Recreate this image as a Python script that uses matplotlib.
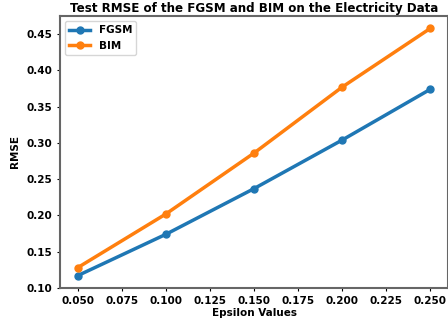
import matplotlib
matplotlib.use("Agg")
import matplotlib.pyplot as plt

epsilon = [0.05, 0.10, 0.15, 0.20, 0.25]
fgsm = [0.117, 0.174, 0.237, 0.304, 0.374]
bim = [0.128, 0.202, 0.286, 0.377, 0.458]

plt.rcParams['font.weight'] = 'bold'
fig = plt.figure(figsize=(4.48, 3.26), dpi=100)
ax = fig.add_axes([60/448, 38/326, (448-60)/448, (288-16)/326])
ax.plot(epsilon, fgsm, marker='o', linewidth=2.5, markersize=5, label='FGSM')
ax.plot(epsilon, bim, marker='o', linewidth=2.5, markersize=5, label='BIM')
ax.set_xlim(0.04, 0.26)
ax.set_ylim(0.10, 0.475)
ax.set_xticks([0.05, 0.075, 0.1, 0.125, 0.15, 0.175, 0.2, 0.225, 0.25])
ax.set_yticks([0.10, 0.15, 0.20, 0.25, 0.30, 0.35, 0.40, 0.45])
ax.tick_params(labelsize=7.5, length=2.5, pad=3)
for lab in ax.get_xticklabels() + ax.get_yticklabels():
    lab.set_fontweight('bold')
ax.set_xlabel('Epsilon Values', fontsize=7.5, fontweight='bold', labelpad=2)
ax.set_ylabel('RMSE', fontsize=7.5, fontweight='bold', labelpad=5)
ax.set_title('Test RMSE of the FGSM and BIM on the Electricity Data', fontsize=8.6, fontweight='bold', pad=3)
for s in ax.spines.values():
    s.set_color('#666666')
    s.set_linewidth(1.5)
ax.legend(loc='upper left', prop={'weight': 'bold', 'size': 7.5})
fig.savefig('out.png', dpi=100)
